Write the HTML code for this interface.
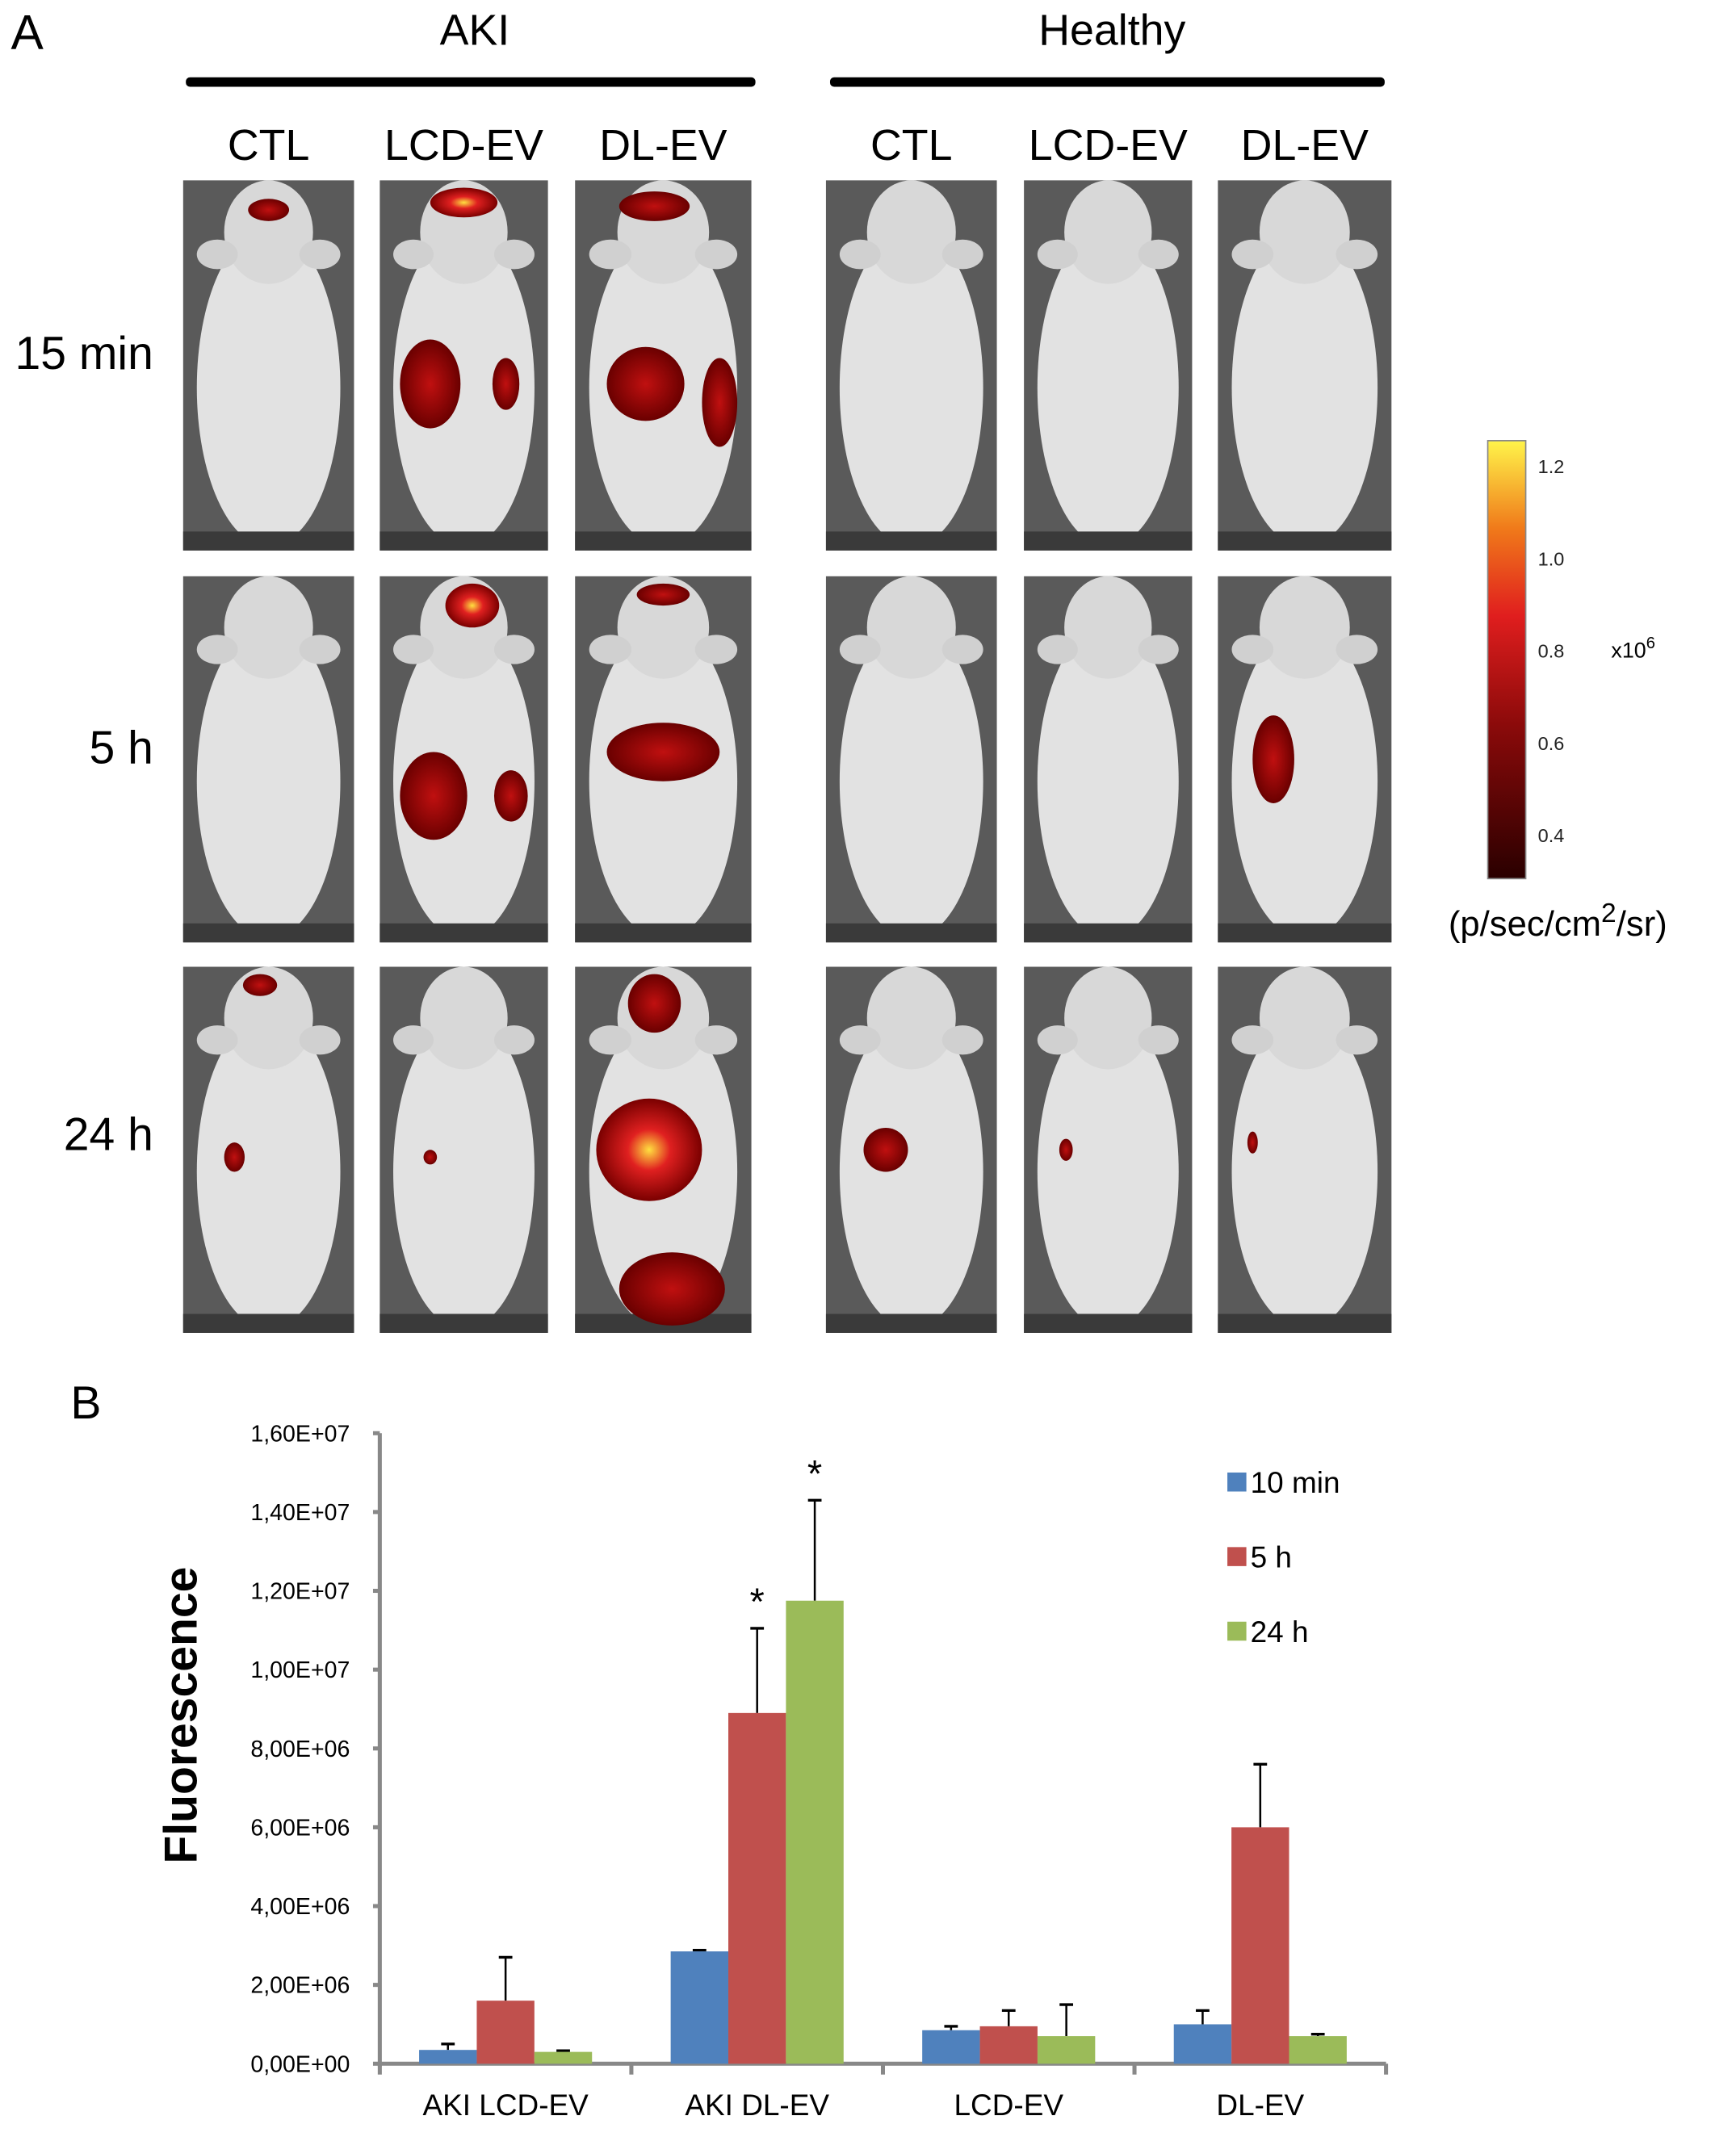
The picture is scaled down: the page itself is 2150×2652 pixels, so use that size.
<!DOCTYPE html>
<html><head><meta charset="utf-8"><style>
html,body{margin:0;padding:0;background:#fff;}
svg{display:block;font-family:"Liberation Sans",Arial,sans-serif;}
</style></head><body>
<svg id="fig" width="2150" height="2652" viewBox="0 0 1280 1579" xmlns="http://www.w3.org/2000/svg">
<defs>
<linearGradient id="cb" x1="0" y1="1" x2="0" y2="0">
<stop offset="0" stop-color="#2a0000"/><stop offset="0.35" stop-color="#8b0a0a"/><stop offset="0.6" stop-color="#e01e1e"/><stop offset="0.8" stop-color="#f07a1a"/><stop offset="1" stop-color="#fff44a"/>
</linearGradient>
<radialGradient id="blob"><stop offset="0" stop-color="#c01010"/><stop offset="1" stop-color="#6a0000"/></radialGradient>
<radialGradient id="hot"><stop offset="0" stop-color="#ffe040"/><stop offset="0.4" stop-color="#e02020"/><stop offset="1" stop-color="#7a0000"/></radialGradient>
</defs>
<text x="8" y="36" font-size="36">A</text>
<text x="350" y="33" font-size="32" text-anchor="middle">AKI</text>
<rect x="137" y="57" width="420" height="7" rx="3"/>
<text x="820" y="33" font-size="32" text-anchor="middle">Healthy</text>
<rect x="612" y="57" width="409" height="7" rx="3"/>
<g id="panels"></g>
<text x="113" y="272" font-size="34" text-anchor="end">15 min</text>
<text x="113" y="563" font-size="34" text-anchor="end">5 h</text>
<text x="113" y="848" font-size="34" text-anchor="end">24 h</text>
<g>
<rect x="1097" y="325" width="28" height="323" fill="url(#cb)" stroke="#888" stroke-width="1"/>
<g font-size="14" fill="#222">
<text x="1134" y="349">1.2</text><text x="1134" y="417">1.0</text><text x="1134" y="485">0.8</text><text x="1134" y="553">0.6</text><text x="1134" y="621">0.4</text>
</g>
<text x="1188" y="485" font-size="16">x10<tspan dy="-7" font-size="12">6</tspan></text>
<text x="1068" y="690" font-size="26">(p/sec/cm<tspan dy="-10" font-size="20">2</tspan><tspan dy="10">/sr)</tspan></text>
</g>
<text x="52" y="1046" font-size="34">B</text>
<g id="chart"></g>
<text transform="translate(145,1265) rotate(-90)" font-size="34" font-weight="bold" text-anchor="middle">Fluorescence</text>
</svg>
<script>
const categories = ["AKI LCD-EV","AKI DL-EV","LCD-EV","DL-EV"];
const seriesNames = ["10 min","5 h","24 h"];
const vals10min = [0.35e6, 2.85e6, 0.85e6, 1.0e6];
const vals5h = [1.6e6, 8.9e6, 0.95e6, 6.0e6];
const vals24h = [0.3e6, 11.75e6, 0.7e6, 0.7e6];
const err10min = [0.15e6, 0.03e6, 0.1e6, 0.35e6];
const err5h = [1.1e6, 2.15e6, 0.4e6, 1.6e6];
const err24h = [0.03e6, 2.55e6, 0.8e6, 0.05e6];
const tickValues = [0,2e6,4e6,6e6,8e6,10e6,12e6,14e6,16e6];
const tickLabels = ["0,00E+00","2,00E+06","4,00E+06","6,00E+06","8,00E+06","1,00E+07","1,20E+07","1,40E+07","1,60E+07"];
const starred = [[1,1],[1,2]];

const NS="http://www.w3.org/2000/svg";
function mk(tag,attrs,parent){const e=document.createElementNS(NS,tag);for(const k in attrs)e.setAttribute(k,attrs[k]);parent.appendChild(e);return e;}
const chart=document.getElementById('chart');
const x0=280,x1=1022,yTop=1057,yBot=1522,vMax=16e6;
const y=v=>yBot-(v/vMax)*(yBot-yTop);
const groupW=(x1-x0)/categories.length, barW=42.5;
const colors=["#4f81bd","#c0504d","#9bbb59"];
const series=[vals10min,vals5h,vals24h], errs=[err10min,err5h,err24h];
let ax=mk('line',{x1:x0,y1:yTop,x2:x0,y2:yBot+2,stroke:'#888','stroke-width':3},chart);

let axx=mk('line',{x1:x0,y1:yBot,x2:x1,y2:yBot,stroke:'#888','stroke-width':3},chart);

tickValues.forEach((v,i)=>{
  mk('line',{x1:x0-5,y1:y(v),x2:x0,y2:y(v),stroke:'#888','stroke-width':3},chart);
  const t=mk('text',{x:258,y:y(v)+6,'font-size':17,'text-anchor':'end'},chart);
  
  t.textContent=tickLabels[i];
});
for(let g=0;g<=categories.length;g++){mk('line',{x1:x0+g*groupW,y1:yBot,x2:x0+g*groupW,y2:yBot+8,stroke:'#888','stroke-width':3},chart);}
categories.forEach((c,g)=>{
  const cx=x0+(g+0.5)*groupW;
  const t=mk('text',{x:cx,y:1560,'font-size':22,'text-anchor':'middle'},chart);
  
  t.textContent=c;
  series.forEach((s,k)=>{
    const bx=cx-1.5*barW+k*barW;
    const e=errs[k][g]; const top=y(s[g]+e);
    mk('line',{x1:bx+barW/2,y1:y(s[g]),x2:bx+barW/2,y2:top,stroke:'#000','stroke-width':1.5},chart);
    mk('line',{x1:bx+barW/2-5,y1:top,x2:bx+barW/2+5,y2:top,stroke:'#000','stroke-width':2},chart);
    const r=mk('rect',{x:bx,y:y(s[g]),width:barW,height:yBot-y(s[g]),fill:colors[k]},chart);
    
  });
});
starred.forEach(([g,k])=>{
  const cx=x0+(g+0.5)*groupW-1.5*barW+k*barW+barW/2;
  const t=mk('text',{x:cx,y:y(series[k][g]+errs[k][g])-10,'font-size':28,'text-anchor':'middle'},chart);
  
  t.textContent='*';
});
seriesNames.forEach((n,k)=>{
  const ly=1086+k*55;
  const r=mk('rect',{x:905,y:ly,width:14,height:14,fill:colors[k]},chart);
  
  const t=mk('text',{x:922,y:ly+15,'font-size':22},chart);
  
  t.textContent=n;
});
const P=document.getElementById('panels');
const colX=[[135,126],[280,124],[424,130],[609,126],[755,124],[898,128]];
const rowY=[[133,273],[425,270],[713,270]];
const colLabels=["CTL","LCD-EV","DL-EV","CTL","LCD-EV","DL-EV"];
colX.forEach(([cx,w],i)=>{
  const t=mk('text',{x:cx+w/2,y:118,'font-size':32,'text-anchor':'middle'},P);
  
  t.textContent=colLabels[i];
});
rowY.forEach(([ry,h],r)=>{colX.forEach(([cx,w],c)=>{
  const g=mk('g',{},P);
  
  mk('rect',{x:cx,y:ry,width:w,height:h,fill:'#5a5a5a'},g);
  mk('ellipse',{cx:cx+w/2,cy:ry+h*0.56,rx:w*0.42,ry:h*0.43,fill:'#e2e2e2'},g);
  mk('ellipse',{cx:cx+w/2,cy:ry+h*0.14,rx:w*0.26,ry:h*0.14,fill:'#d8d8d8'},g);
  mk('ellipse',{cx:cx+w*0.2,cy:ry+h*0.2,rx:w*0.12,ry:h*0.04,fill:'#d0d0d0'},g);
  mk('ellipse',{cx:cx+w*0.8,cy:ry+h*0.2,rx:w*0.12,ry:h*0.04,fill:'#d0d0d0'},g);
  mk('rect',{x:cx,y:ry+h-14,width:w,height:14,fill:'#3a3a3a'},g);
});});
const blobs={ "0,1":[[0.5,0.08,0.12,0.03,'blob']], "1,1":[[0.5,0.06,0.2,0.04,'hot'],[0.3,0.55,0.18,0.12,'blob'],[0.75,0.55,0.08,0.07,'blob']],
 "2,1":[[0.45,0.07,0.2,0.04,'blob'],[0.4,0.55,0.22,0.1,'blob'],[0.82,0.6,0.1,0.12,'blob']],
 "1,2":[[0.55,0.08,0.16,0.06,'hot'],[0.32,0.6,0.2,0.12,'blob'],[0.78,0.6,0.1,0.07,'blob']],
 "2,2":[[0.5,0.05,0.15,0.03,'blob'],[0.5,0.48,0.32,0.08,'blob']],
 "0,3":[[0.45,0.05,0.1,0.03,'blob'],[0.3,0.52,0.06,0.04,'blob']],"1,3":[[0.3,0.52,0.04,0.02,'blob']],
 "2,3":[[0.45,0.1,0.15,0.08,'blob'],[0.42,0.5,0.3,0.14,'hot'],[0.55,0.88,0.3,0.1,'blob']],
 "5,2":[[0.32,0.5,0.12,0.12,'blob']],"3,3":[[0.35,0.5,0.13,0.06,'blob']],"5,3":[[0.2,0.48,0.03,0.03,'blob']],"4,3":[[0.25,0.5,0.04,0.03,'blob']]};
const blobMap=[["0,1",0,0],["1,1",0,1],["2,1",0,2],["1,2",1,1],["2,2",1,2],["0,3",2,0],["1,3",2,1],["2,3",2,2],["5,2",1,5],["3,3",2,3],["5,3",2,5],["4,3",2,4]];
blobMap.forEach(([k,r,c])=>{
  const [cx,w]=colX[c],[ry,h]=rowY[r];
  blobs[k].forEach(b=>{
    const e=mk('ellipse',{cx:cx+w*b[0],cy:ry+h*b[1],rx:w*b[2],ry:h*b[3],fill:'url(#'+b[4]+')'},P);
    
  });
});
</script>
</body></html>
